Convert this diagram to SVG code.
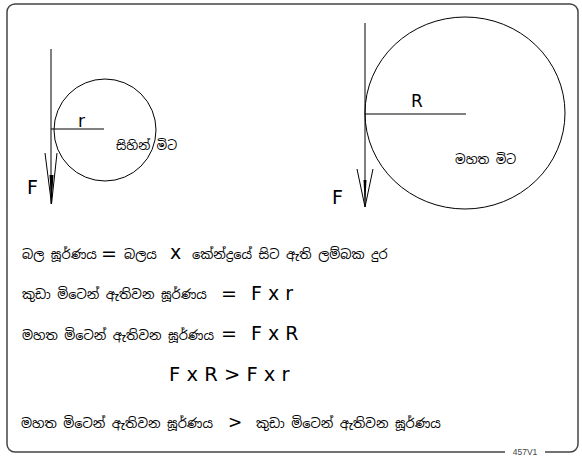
<svg xmlns="http://www.w3.org/2000/svg" width="582" height="457" viewBox="0 0 582 457">
<style>
.ln{stroke:#000;stroke-width:1;fill:none}
.si{font-family:"Noto Sans Sinhala","Noto Sans","DejaVu Sans",sans-serif;font-size:12.5px;fill:#000}
.eq{font-family:"Noto Sans Sinhala","Noto Sans","DejaVu Sans",sans-serif;font-size:13px;fill:#000}
.la{font-family:"DejaVu Sans","Liberation Sans",sans-serif;font-size:19px;fill:#000}
.lb{font-family:"DejaVu Sans","Liberation Sans",sans-serif;font-size:17px;fill:#000}
</style>
<rect x="0" y="0" width="582" height="457" fill="#fff"/>
<g id="frame">
<rect x="7" y="4" width="571" height="448" rx="8" ry="8" fill="none" stroke="#444" stroke-width="1.5"/>
<rect x="505" y="448" width="40" height="9" fill="#fff"/>
<text x="525" y="455" text-anchor="middle" font-family="Liberation Sans,sans-serif" font-size="8.5" fill="#444">457V1</text>
</g>
<g id="small-handle">
<circle cx="105" cy="130" r="51" class="ln"/>
<line x1="51" y1="49" x2="51" y2="204" class="ln"/>
<line x1="51" y1="129" x2="104" y2="129" class="ln"/>
<polyline points="45,153 51.5,204 57,153" class="ln"/>
<polygon points="49.5,175 51.5,204 53.5,175" fill="#000"/>
<text x="78" y="127" class="lb">r</text>
<text x="27" y="194" class="la">F</text>
<text x="116" y="150" class="si">සිහින් මිට</text>
</g>
<g id="large-handle">
<ellipse cx="465" cy="113" rx="100" ry="96" class="ln"/>
<line x1="365" y1="23" x2="365" y2="207" class="ln"/>
<line x1="365" y1="114" x2="466" y2="114" class="ln"/>
<polyline points="357,169 365,207 373,169" class="ln"/>
<polygon points="363.5,180 365,207 366.5,180" fill="#000"/>
<text x="411" y="107" class="lb">R</text>
<text x="332" y="204" class="la">F</text>
<text x="455" y="164" class="si">මහත මිට</text>
</g>
<g id="equations">
<text x="22" y="259" class="eq">බල ඝූර්ණය</text>
<text x="101" y="260" class="la">=</text>
<text x="124" y="259" class="eq">බලය</text>
<text x="170" y="259" class="la">x</text>
<text x="192" y="259" class="eq">කේන්ද්‍රයේ සිට ඇති ලම්බක දුර</text>
<text x="22" y="299" class="eq">කුඩා මිටෙන් ඇතිවන ඝූර්ණය</text>
<text x="221" y="300" class="la">=</text>
<text x="251" y="300" class="la">F x r</text>
<text x="22" y="340" class="eq">මහත මිටෙන් ඇතිවන ඝූර්ණය</text>
<text x="221" y="340" class="la">=</text>
<text x="251" y="340" class="la">F x R</text>
<text x="169" y="381" class="la" style="font-size:19.5px">F x R &gt; F x r</text>
<text x="21" y="428" class="eq">මහත මිටෙන් ඇතිවන ඝූර්ණය</text>
<text x="228" y="428" class="lb">&gt;</text>
<text x="256" y="428" class="eq">කුඩා මිටෙන් ඇතිවන ඝූර්ණය</text>
</g>
</svg>
